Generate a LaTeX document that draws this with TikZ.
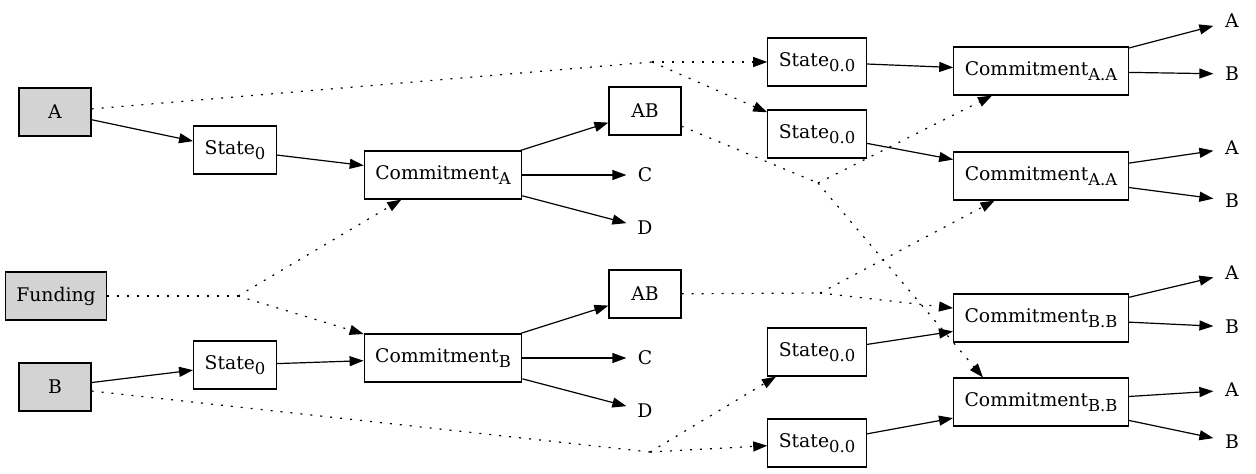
\documentclass[tikz,border=0pt]{standalone}
\usepackage{fontspec}
\setmainfont{DejaVu Serif}
\usetikzlibrary{arrows.meta,positioning}
\definecolor{srcgray}{HTML}{D3D3D3}
\newcommand{\subidx}[1]{\raisebox{-2.5pt}{\fontsize{8.2}{9}\selectfont #1}}

\begin{document}
\begin{tikzpicture}[x=0.5pt,y=-0.5pt,line width=0.6pt,on grid,
    >={Triangle[length=7pt,width=5pt]},
    font=\fontsize{9.4}{11}\selectfont,
    box/.style={draw,minimum height=24pt,minimum width=36pt,inner xsep=5.5pt,inner ysep=2pt},
    src/.style={box,fill=srcgray},
    outlbl/.style={minimum width=18pt,inner sep=1pt},
    link/.style={dash pattern=on 1pt off 4pt}]
  \useasboundingbox (0,0) rectangle (1256,473);
  % parties and funding
  \node[src] (A) at (55,112) {A};
  \node[src] (F) at (56,296) {Funding};
  \node[src] (B) at (55,387) {B};
  \node[box] (S_A) at (235,150) {State\subidx{0}};
  \node[box] (S_B) at (235,365) {State\subidx{0}};
  \node[box] (K_A) at (443,175) {Commitment\subidx{A}};
  \node[box] (K_B) at (443,358) {Commitment\subidx{B}};
  \node[box] (AB_A) [above right=32pt and 101pt of K_A] {AB};
  \node[outlbl] (C_A) [right=101pt of K_A] {C};
  \node[outlbl] (D_A) [below right=26.5pt and 101pt of K_A] {D};
  \node[box] (AB_B) [above right=32pt and 101pt of K_B] {AB};
  \node[outlbl] (C_B) [right=101pt of K_B] {C};
  \node[outlbl] (D_B) [below right=26.5pt and 101pt of K_B] {D};
  % second level
  \node[box] (S_1) at (817,62) {State\subidx{0.0}};
  \node[box] (S_2) at (817,134) {State\subidx{0.0}};
  \node[box] (S_3) at (817,352) {State\subidx{0.0}};
  \node[box] (S_4) at (817,443) {State\subidx{0.0}};
  \node[box] (K_1) at (1041,71) {Commitment\subidx{A.A}};
  \node[box] (K_2) at (1041,176) {Commitment\subidx{A.A}};
  \node[box] (K_3) at (1041,318) {Commitment\subidx{B.B}};
  \node[box] (K_4) at (1041,402) {Commitment\subidx{B.B}};
  \node[outlbl] (A_1) at (1232,21) {A};
  \node[outlbl] (B_1) at (1232,74) {B};
  \node[outlbl] (A_2) at (1232,148) {A};
  \node[outlbl] (B_2) at (1232,201) {B};
  \node[outlbl] (A_3) at (1232,273) {A};
  \node[outlbl] (B_3) at (1232,327) {B};
  \node[outlbl] (A_4) at (1232,390) {A};
  \node[outlbl] (B_4) at (1232,442) {B};
  % joins
  \coordinate (J_A) at (652,62);
  \coordinate (J_F) at (238,296);
  \coordinate (J_B) at (650,452);
  \coordinate (J_1) at (818,183);
  \coordinate (J_2) at (820,293);
  \path[->]
    (A) edge (S_A)
    (S_A) edge (K_A)
    (K_A) edge (AB_A) edge (C_A) edge (D_A)
    (B) edge (S_B)
    (S_B) edge (K_B)
    (K_B) edge (AB_B) edge (C_B) edge (D_B)
    (S_1) edge (K_1)
    (S_2) edge (K_2)
    (S_3) edge (K_3)
    (S_4) edge (K_4)
    (K_1) edge (A_1) edge (B_1)
    (K_2) edge (A_2) edge (B_2)
    (K_3) edge (A_3) edge (B_3)
    (K_4) edge (A_4) edge (B_4);
  \path[link]
    (A) edge (J_A)
    (F) edge (J_F)
    (B) edge (J_B)
    (AB_A) edge (J_1)
    (AB_B) edge (J_2);
  \path[link,->]
    (J_A) edge (S_1) edge (S_2)
    (J_F) edge (K_A) edge (K_B)
    (J_B) edge (S_3) edge (S_4)
    (J_1) edge (K_1) edge ([xshift=15pt]K_4.north west)
    (J_2) edge (K_2) edge (K_3);
\end{tikzpicture}
\end{document}
